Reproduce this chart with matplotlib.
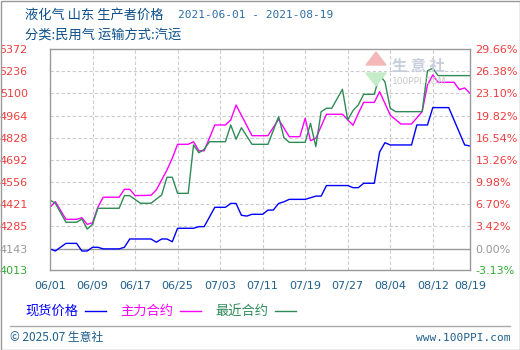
import pandas as pd
import matplotlib
matplotlib.use("Agg")
import matplotlib.pyplot as plt
import matplotlib.dates as mdates
from matplotlib.lines import Line2D
from matplotlib.patches import Rectangle, Polygon

plt.rcParams['font.family'] = ['DejaVu Sans', 'Noto Sans CJK SC']

# --- data ---
spot_dates = ['06-01', '06-02', '06-04', '06-06', '06-07', '06-08', '06-09', '06-10', '06-11',
              '06-14', '06-15', '06-16', '06-20', '06-21', '06-22', '06-23', '06-24', '06-25',
              '06-28', '06-29', '06-30', '07-02', '07-04', '07-05', '07-06', '07-07', '07-08',
              '07-09', '07-11', '07-12', '07-13', '07-14', '07-15', '07-16', '07-19', '07-21',
              '07-22', '07-23', '07-27', '07-28', '07-29', '07-30', '08-01', '08-02', '08-03',
              '08-04', '08-08', '08-09', '08-11', '08-12', '08-15', '08-18', '08-19']
spot_vals = [4143, 4130, 4177, 4177, 4130, 4130, 4153, 4153, 4143,
             4143, 4153, 4204, 4204, 4184, 4204, 4204, 4187, 4270,
             4270, 4280, 4280, 4399, 4399, 4423, 4423, 4350, 4345,
             4356, 4356, 4382, 4382, 4423, 4433, 4448, 4448, 4468,
             4468, 4533, 4533, 4520, 4520, 4547, 4547, 4740, 4797,
             4783, 4783, 4906, 4906, 5013, 5013, 4783, 4777]

main_dates = ['06-01', '06-02', '06-04', '06-06', '06-07', '06-08', '06-09', '06-10', '06-11',
              '06-14', '06-15', '06-16', '06-17', '06-20', '06-21', '06-22', '06-23', '06-24',
              '06-25', '06-27', '06-28', '06-29', '06-30', '07-02', '07-04', '07-05', '07-06',
              '07-09', '07-12', '07-14', '07-16', '07-18', '07-19', '07-20', '07-21', '07-23',
              '07-26', '07-28', '07-29', '07-30', '08-01', '08-02', '08-04', '08-06', '08-08',
              '08-10', '08-11', '08-12', '08-13', '08-16', '08-17', '08-18', '08-19']
main_vals = [4399, 4434, 4325, 4325, 4335, 4294, 4304, 4399, 4461,
             4461, 4510, 4510, 4471, 4473, 4506, 4567, 4629, 4701,
             4787, 4787, 4803, 4747, 4747, 4906, 4906, 4937, 5029,
             4840, 4840, 4941, 4834, 4834, 4947, 4809, 4824, 4972,
             4972, 4904, 4978, 5045, 5045, 5111, 4967, 4912, 4912,
             4988, 5152, 5214, 5169, 5169, 5124, 5134, 5101]

near_dates = ['06-01', '06-02', '06-04', '06-06', '06-07', '06-08', '06-09', '06-10', '06-14',
              '06-15', '06-16', '06-18', '06-20', '06-22', '06-23', '06-24', '06-25', '06-27',
              '06-28', '06-29', '06-30', '07-01', '07-04', '07-05', '07-06', '07-07', '07-09',
              '07-12', '07-14', '07-15', '07-16', '07-19', '07-20', '07-21', '07-22', '07-23',
              '07-24', '07-26', '07-27', '07-28', '07-29', '07-30', '08-01', '08-02', '08-03',
              '08-04', '08-05', '08-10', '08-11', '08-12', '08-13', '08-19']
near_vals = [4444, 4424, 4307, 4307, 4327, 4265, 4294, 4393, 4393,
             4471, 4471, 4424, 4424, 4475, 4584, 4584, 4485, 4485,
             4783, 4735, 4756, 4803, 4803, 4906, 4818, 4889, 4787,
             4787, 4957, 4828, 4799, 4799, 4916, 4773, 4988, 5009,
             5009, 5126, 4937, 4995, 5030, 5095, 5095, 5214, 5172,
             5009, 4988, 4988, 5240, 5255, 5210, 5210]

year = 2021
y_ticks = [4013, 4143, 4285, 4421, 4556, 4692, 4828, 4964, 5100, 5236, 5372]
y_labels = ['4013', '4143', '4285', '4421', '4556', '4692', '4828', '4964', '5100', '5236', '5372']
pct_labels = ['-3.13%', '0.00%', '3.42%', '6.70%', '9.98%', '13.26%', '16.54%', '19.82%',
              '23.10%', '26.38%', '29.66%']
x_ticks = ['06-01', '06-09', '06-17', '06-25', '07-03', '07-11', '07-19', '07-27',
           '08-04', '08-12', '08-19']

RED = '#f03c3c'
GRAY = '#999999'
NEG = '#33aa33'
BLUE_TXT = '#1f5f8b'


def to_dt(lst):
    return pd.to_datetime([f"{year}-{d}" for d in lst])


fig = plt.figure(figsize=(5.2, 3.5), dpi=100)
ax = fig.add_axes([50 / 520, 1 - 270 / 350, 420 / 520, 220.7 / 350])

ax.plot(to_dt(spot_dates), spot_vals, color='#0000ff', lw=1.0)
ax.plot(to_dt(main_dates), main_vals, color='#ff00ff', lw=1.0)
ax.plot(to_dt(near_dates), near_vals, color='#2e8b57', lw=1.0)

xt = to_dt(x_ticks)
ax.set_xlim(xt[0], xt[-1])
ax.set_ylim(y_ticks[0], y_ticks[-1])

# grid
for t in xt[1:-1]:
    ax.axvline(t, color='#cccccc', lw=0.8, ls=(0, (3, 2)), zorder=0)
for v in y_ticks[1:-1]:
    if v == 4143:
        ax.axhline(v, color=GRAY, lw=1.0, zorder=0)
    else:
        ax.axhline(v, color='#cccccc', lw=0.8, ls=(0, (3, 2)), zorder=0)

for s in ax.spines.values():
    s.set_color(GRAY)
    s.set_linewidth(1.0)

ax.set_xticks(xt)
ax.set_xticklabels([t.strftime('%m/%d') for t in xt], color=BLUE_TXT, fontsize=8)
ax.tick_params(axis='x', length=0, pad=8)

ax.set_yticks(y_ticks)
ax.set_yticklabels(y_labels, fontsize=8)
ax.tick_params(axis='y', length=0, pad=16)
for lab, v in zip(ax.get_yticklabels(), y_ticks):
    lab.set_color(NEG if v < 4143 else (GRAY if v == 4143 else RED))

ax2 = ax.twinx()
ax2.set_ylim(ax.get_ylim())
ax2.set_yticks(y_ticks)
ax2.set_yticklabels(pct_labels, fontsize=8)
ax2.tick_params(axis='y', length=0, pad=4)
for lab, v in zip(ax2.get_yticklabels(), y_ticks):
    lab.set_color(NEG if v < 4143 else (GRAY if v == 4143 else RED))
for s in ax2.spines.values():
    s.set_visible(False)

# watermark
fig.patches.append(Polygon([[376 / 520, 1 - 52 / 350], [366 / 520, 1 - 65 / 350], [386 / 520, 1 - 65 / 350]],
                           closed=True, transform=fig.transFigure, color='#f4b8b8', zorder=0.5))
fig.patches.append(Polygon([[366 / 520, 1 - 73 / 350], [386 / 520, 1 - 73 / 350], [376 / 520, 1 - 86 / 350]],
                           closed=True, transform=fig.transFigure, color='#c4ecc8', zorder=0.5))
fig.text(392 / 520, 1 - 66 / 350, '生 意 社', color='#c8cfdc', fontsize=11, va='center',
         family=['Noto Sans CJK SC'], fontweight='bold', zorder=0.5)
fig.text(392 / 520, 1 - 81 / 350, '100PPI.COM', color='#c8c8c8', fontsize=6.5, va='center', zorder=0.5)

# titles
cjk = ['Noto Sans CJK SC', 'DejaVu Sans']
fig.text(25 / 520, 1 - 15 / 350, '液化气 山东 生产者价格', color='#0b4f8a', fontsize=9.5,
         va='center', family=cjk)
fig.text(178 / 520, 1 - 15 / 350, '2021-06-01 - 2021-08-19', color='#2e6da4', fontsize=8,
         va='center', family=['DejaVu Sans Mono'])
fig.text(25 / 520, 1 - 35 / 350, '分类:民用气 运输方式:汽运', color='#0b4f8a', fontsize=9.5,
         va='center', family=cjk)

# legend
legend_items = [('现货价格', '#0000ff', 25), ('主力合约', '#ff00ff', 120), ('最近合约', '#2e8b57', 215)]
for name, col, x0 in legend_items:
    fig.text(x0 / 520, 1 - 311 / 350, name, color=col, fontsize=9.5, va='center', family=cjk)
    fig.lines.append(Line2D([(x0 + 60) / 520, (x0 + 81) / 520], [1 - 311 / 350] * 2,
                            transform=fig.transFigure, color=col, lw=1.0))

# footer
fig.lines.append(Line2D([10 / 520, 510 / 520], [1 - 326 / 350] * 2, transform=fig.transFigure,
                        color='#aaaaaa', lw=1.0))
fig.text(10 / 520, 1 - 338 / 350, '© 2025.07 生意社', color=BLUE_TXT, fontsize=8.5, va='center', family=cjk)
fig.text(510 / 520, 1 - 338 / 350, 'www.100PPI.com', color=BLUE_TXT, fontsize=8, va='center', ha='right',
         family=['DejaVu Sans Mono'])

# outer frame
fig.patches.append(Rectangle((0.5 / 520, 0.5 / 350), 519 / 520, 349 / 350, transform=fig.transFigure,
                             fill=False, edgecolor=GRAY, lw=1.0))

fig.savefig('out.png', dpi=100)
